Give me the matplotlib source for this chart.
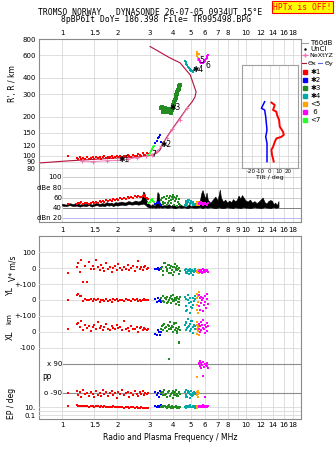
# Dynasonde ionogram, Tromso 26-07-05 09:34 UT
import matplotlib.pyplot as plt
import matplotlib.transforms as mtransforms
from matplotlib.lines import Line2D
from matplotlib.ticker import NullLocator

# ---------------- data ----------------
f_ticks = [1, 1.5, 2, 3, 4, 5, 6, 7, 8, 9, 10, 12, 14, 16, 18]
f_lab_db = ['1', '1.5', '2', '3', '4', '5', '6', '7', '8', '9', '10', '12', '14', '16', '18']
f_lab = ['' if s == '9' else s for s in f_lab_db]
h_ticks = [80, 90, 100, 120, 150, 200, 300, 400, 600, 800]
db_ticks = [100, 80, 60, 40, 20]
db_labels = ['100', 'dBe 80', '60', '40', 'dBn 20']

# echo trace 1 (red)
f_red = [1.08, 1.20, 1.22, 1.25, 1.27, 1.30, 1.33, 1.36, 1.40, 1.43,
         1.47, 1.50, 1.53, 1.57, 1.60, 1.63, 1.66, 1.70, 1.74, 1.78,
         1.82, 1.86, 1.90, 1.94, 1.98, 2.02, 2.07, 2.12, 2.17, 2.22,
         2.27, 2.32, 2.38, 2.44, 2.50, 2.55, 2.60, 2.65, 2.70, 2.75,
         2.80, 2.84, 2.88, 2.92]
h_red = [100, 96, 94, 97, 95, 96, 94, 97, 95, 96,
         98, 95, 97, 96, 98, 95, 97, 99, 96, 98,
         97, 99, 96, 98, 100, 97, 99, 98, 100, 97,
         101, 99, 98, 102, 100, 99, 103, 101, 100, 104,
         102, 101, 105, 103]
db_red = [47, 48, 50, 49, 51, 48, 50, 49, 47, 50,
          51, 49, 52, 50, 53, 51, 54, 52, 55, 53,
          56, 54, 57, 55, 58, 56, 59, 57, 60, 58,
          61, 59, 62, 60, 63, 61, 64, 62, 61, 63,
          65, 62, 60, 58]
v_red = [-31, 5, 31, -27, 52, -84, 12, -90, 41, -8,
         15, -5, 52, 8, -12, 20, 3, -18, 35, -6,
         10, -22, 4, 14, -10, 28, 0, -14, 9, -4,
         18, -9, 2, 12, -16, 6, 45, -3, 10, -11,
         5, 16, -7, 3]
yl_red = [0, 30, 35, 26, 28, -5, 8, -3, 2, 5,
          -8, 4, -2, 6, -10, 3, 0, -6, 5, -4,
          2, -12, 4, -1, 6, -8, 0, 3, -5, 7,
          -3, 1, -9, 4, -2, 5, -6, 2, -4, 0,
          8, -3, 1, -2]
xl_red = [15, 48, 56, 30, 65, 10, 40, 22, 35, 5,
          28, 45, 18, 60, 25, 38, 12, 30, 48, 20,
          8, 35, 25, 15, 42, 22, 30, 10, 70, 18,
          26, 5, 34, 20, 14, 28, -5, 22, 30, 12,
          25, 18, 8, 20]
pp_red = [-90, -75, -100, -85, -110, -70, -95, -88, -105, -80,
          -92, -115, -78, -98, -86, -104, -72, -94, -82, -108,
          -90, -76, -100, -88, -118, -84, -96, -70, -102, -90,
          -80, -110, -86, -98, -74, -92, -106, -84, -96, -78,
          -100, -88, -94, -90]
ep_red = [25, 30, 22, 28, 18, 24, 20, 26, 16, 22,
          19, 14, 21, 17, 12, 18, 15, 20, 13, 16,
          11, 14, 17, 10, 13, 9, 12, 15, 8, 11,
          10, 7, 12, 9, 6, 10, 8, 5, 9, 7,
          6, 8, 5, 7]

# trace 2 (blue)
f_blu = [3.22, 3.27, 3.32, 3.36, 3.40, 3.44]
h_blu = [126, 131, 136, 140, 145, 128]
db_blu = [47, 49, 52, 50, 48, 46]
v_blu = [-5, -8, 2, -10, -3, 0]
yl_blu = [5, -10, 12, -5, 0, -15]
xl_blu = [-15, -20, 10, -5, -18, 0]
pp_blu = [-80, -100, -90, -110, -75, -95]
ep_blu = [20, 15, 25, 12, 18, 30]

# trace 3 (green)
f_grn = [3.45, 3.50, 3.55, 3.60, 3.65, 3.70, 3.75, 3.80, 3.85, 3.90,
         3.95, 4.00, 4.03, 4.06, 4.10, 4.14, 4.18, 4.22, 4.26, 4.30,
         4.34, 4.38, 3.52, 3.62, 3.72, 3.82, 3.92, 4.08, 4.20, 4.32]
h_grn = [235, 240, 230, 222, 228, 218, 224, 216, 222, 220,
         226, 232, 245, 258, 270, 282, 295, 310, 322, 335,
         345, 352, 218, 235, 226, 228, 215, 252, 300, 330]
db_grn = [55, 60, 52, 62, 58, 64, 50, 60, 63, 56,
          61, 65, 58, 62, 54, 60, 57, 63, 52, 58,
          48, 45, 47, 50, 45, 53, 49, 46, 44, 48]
v_grn = [-5, 10, -20, 30, 5, -15, 20, -30, 0, 15,
         -10, -40, 8, -25, 25, 2, -12, 12, -8, -35,
         4, -18, -45, 35, -2, 18, -28, 6, -14, 0]
yl_grn = [10, -5, 25, -15, 5, 20, -10, 0, 15, -20,
          8, -8, 30, -2, 12, -25, 3, 18, -12, 6,
          -30, 22, -4, 14, -18, 2, 28, -6, 10, -14]
xl_grn = [20, 35, 10, 50, 28, 5, 42, 15, 60, 22,
          38, 0, 30, 48, 12, 25, 55, 5, 18, -62,
          -70, 8, 45, 26, 2, 38, 16, 52, -10, 30]
pp_grn = [-90, -80, -100, -70, -95, -110, -85, 121, -105, -92,
          -88, -120, -78, -98, -84, -102, -72, -94, -108, -86,
          -90, -96, -82, -100, -115, -76, -92, -88, -104, -80]
ep_grn = [15, 20, 10, 25, 12, 8, 18, 30, 14, 10,
          22, 6, 16, 12, 9, 20, 11, 7, 14, 10,
          8, 12, 18, 26, 9, 15, 6, 11, 8, 13]

# trace 4 (teal)
f_cyn = [4.66, 4.70, 4.74, 4.78, 4.83, 4.88, 4.93, 4.98, 5.03, 5.08,
         5.13, 5.18, 5.23, 5.28, 4.72, 4.85, 5.00, 5.25]
h_cyn = [540, 528, 515, 500, 490, 480, 470, 462, 455, 450,
         448, 452, 460, 470, 510, 485, 458, 475]
db_cyn = [46, 50, 54, 48, 52, 56, 50, 47, 53, 49,
          45, 51, 48, 46, 44, 55, 50, 47]
v_cyn = [-10, -25, -5, -30, -15, -35, -20, -8, -28, -12,
         -40, -18, -22, -6, -32, -14, -26, -20]
yl_cyn = [20, -40, 5, -60, 30, -20, -80, 10, -10, -50,
          15, -30, -5, 25, -70, 0, -45, 8]
xl_cyn = [40, 10, 60, 25, 80, 35, 5, 50, 20, 70,
          30, -8, 45, 15, 55, 28, 65, 38]
pp_cyn = [-80, -100, -70, -110, -90, -85, -120, -95, -75, -105,
          -88, -98, -82, -92, -115, -78, -102, -90]
ep_cyn = [12, 20, 8, 15, 25, 10, 18, 30, 9, 14,
          22, 11, 16, 7, 13, 19, 10, 24]

# trace 5 (orange)
f_org = [5.38, 5.40, 5.42, 5.44, 5.46, 5.48, 5.50, 5.52]
h_org = [640, 620, 600, 590, 575, 560, 552, 610]
db_org = [48, 50, 46, 52, 49, 47, 51, 45]
v_org = [-20, -15, -25, -18, -30, -12, -22, -28]
yl_org = [40, -60, 10, -30, 25, -80, -10, 50]
xl_org = [20, 45, -15, 60, 30, 5, 38, -20]
pp_org = [-85, -100, -80, 11, -95, -110, -75, -90]
ep_org = [12, 20, 15, 8, 25, 10, 18, 14]

# trace 6 (magenta)
f_mag = [5.52, 5.56, 5.60, 5.64, 5.68, 5.72, 5.76, 5.80, 5.85, 5.90,
         5.95, 6.00, 6.05, 6.10, 6.15, 6.20]
h_mag = [560, 548, 538, 530, 525, 520, 518, 520, 525, 530,
         538, 548, 560, 575, 590, 600]
db_mag = [48, 50, 52, 49, 51, 47, 50, 48, 46, 49,
          47, 50, 48, 46, 47, 49]
v_mag = [-15, -20, -10, -25, -18, -12, -28, -22, -8, -16,
         -24, -14, -20, -10, -18, -26]
yl_mag = [30, -40, 10, -60, 20, -20, 0, -70, 15, -30,
          25, -10, -50, 5, 35, -25]
xl_mag = [20, 50, 35, -5, 60, 10, 40, 25, 75, 15,
          45, -10, 30, 55, 5, 38]
pp_mag = [90, 100, 80, 110, 70, 95, 85, 17, 105, 75,
          92, -110, 88, 98, 82, 65]
ep_mag = [20, 15, 25, 12, 18, 22, 14, 30, 16, 10,
          24, 13, 19, 11, 17, 21]

# trace 7 (lime), only height and amplitude
f_lim = [2.95, 2.99, 3.03, 3.07, 3.11, 3.15]
h_lim = [101, 104, 108, 112, 116, 119]
db_lim = [50, 52, 55, 57, 53, 51]

# unclassified amplitude band (black)
f_blk = [1.00, 1.05, 1.10, 1.15, 1.20, 1.25, 1.30, 1.35, 1.40, 1.45,
         1.50, 1.55, 1.60, 1.65, 1.70, 1.75, 1.80, 1.85, 1.90, 1.95,
         2.00, 2.10, 2.20, 2.30, 2.40, 2.50, 2.60, 2.70, 2.76, 2.80,
         2.85, 2.90, 2.95, 3.00, 3.05, 3.10, 3.15, 3.20, 3.25, 3.30,
         3.35, 3.40, 3.50, 3.60, 3.70, 3.80, 3.90, 4.00, 4.10, 4.20,
         4.30, 4.40, 4.50, 4.60, 4.70, 4.80, 4.90, 5.00, 5.20, 5.40,
         5.60, 5.70, 5.80, 5.90, 6.00, 6.10, 6.20, 6.40, 6.60, 6.80,
         7.00, 7.10, 7.20, 7.30, 7.50, 7.70, 7.90, 8.10, 8.30, 8.50,
         8.70, 8.90, 9.10, 9.30, 9.50, 9.70, 9.90, 10.2, 10.5, 10.8,
         11.1, 11.4, 11.7, 12.0, 12.3, 12.6, 12.9, 13.2, 13.5, 13.8,
         14.1, 14.4, 14.7, 15.0]
hi_blk = [48, 46, 49, 47, 50, 46, 48, 47, 49, 46,
          48, 50, 47, 49, 48, 51, 49, 50, 48, 51,
          50, 52, 50, 53, 51, 54, 52, 55, 72, 70,
          58, 52, 48, 46, 44, 47, 45, 44, 50, 71,
          68, 46, 44, 45, 44, 47, 43, 46, 44, 45,
          43, 46, 44, 43, 45, 44, 46, 43, 45, 44,
          52, 68, 75, 66, 58, 70, 55, 50, 56, 62,
          55, 65, 76, 60, 52, 56, 50, 54, 51, 57,
          53, 55, 64, 58, 65, 60, 55, 52, 56, 50,
          53, 49, 52, 56, 60, 51, 48, 53, 55, 54,
          47, 50, 45, 53]
lo_blk = [44, 43, 45, 43, 44, 42, 44, 43, 45, 42,
          44, 45, 43, 44, 43, 45, 44, 45, 43, 45,
          44, 46, 45, 47, 46, 47, 46, 47, 48, 47,
          45, 42, 41, 40, 41, 40, 41, 40, 40, 41,
          40, 41, 40, 41, 40, 40, 41, 40, 39, 40,
          41, 40, 40, 41, 40, 39, 40, 41, 40, 40,
          41, 40, 39, 40, 41, 40, 40, 41, 40, 39,
          40, 41, 40, 40, 39, 40, 41, 40, 40, 39,
          41, 40, 40, 39, 40, 41, 40, 40, 39, 40,
          41, 40, 40, 39, 40, 41, 40, 40, 39, 40,
          41, 40, 40, 41]

# real height profile and NeXtYZ profile
f_prof = [0.753, 1.06, 1.61, 2.65, 3.12, 3.33, 3.41, 3.50, 3.72, 4.01,
          4.38, 4.78, 5.09, 5.28, 5.35, 5.15, 4.97, 4.38, 3.86, 3.01]
h_prof = [87.8, 91, 94.3, 98.2, 101, 107, 111, 121, 140, 164,
          196, 234, 261, 285, 312, 366, 422, 523, 571, 700]
f_nex = [1.28, 1.48, 1.75, 2.00, 2.28, 2.55, 2.85, 3.10, 3.30, 3.45, 3.70, 3.98, 4.35, 4.80]
h_nex = [91, 90, 91.5, 92, 94, 96.5, 99, 102, 108, 118, 136, 160, 190, 235]

# tilt inset
tilt_hx = [258, 247, 226, 219, 207, 189, 168, 153, 145, 140, 136, 128, 117, 111, 101, 95, 90]
tilt_x = [1.9, 5.6, 3.7, 7.4, 8.1, 10.4, 11.1, 14.8, 15.6, 13.0, 7.4, 5.6, 3.7, 1.9, 2.6, 3.7, 4.4]
tilt_hy = [262, 247, 233, 226, 200, 178, 158, 140, 125, 111, 90]
tilt_y = [-5.6, -7.4, -9.2, -5.6, -4.4, -3.7, -3.0, -4.4, -3.0, -3.0, -3.0]

# trace labels in the height panel
lab_txt = ['✱1', '✱2', '7', '✱3', '✱4', '5', '6']
lab_f = [2.02, 3.41, 3.07, 3.86, 5.12, 5.57, 5.99]
lab_h = [94, 122, 103, 234, 461, 545, 495]

# ---------------- styling ----------------
RED, BLUE, GREEN, TEAL = '#ff0000', '#0000ff', '#228b22', '#00a8a8'
ORANGE, MAG, LIME = '#ffa500', '#ff00ff', '#22ff22'
MAROON, PINK = '#b4103c', '#f070b0'
GRID = '#d9d9d9'
FRAME = '#8a8a8a'

traces = [
    dict(f=f_red, h=h_red, db=db_red, v=v_red, yl=yl_red, xl=xl_red, pp=pp_red, ep=ep_red, c=RED, lab='✱1'),
    dict(f=f_blu, h=h_blu, db=db_blu, v=v_blu, yl=yl_blu, xl=xl_blu, pp=pp_blu, ep=ep_blu, c=BLUE, lab='✱2'),
    dict(f=f_grn, h=h_grn, db=db_grn, v=v_grn, yl=yl_grn, xl=xl_grn, pp=pp_grn, ep=ep_grn, c=GREEN, lab='✱3'),
    dict(f=f_cyn, h=h_cyn, db=db_cyn, v=v_cyn, yl=yl_cyn, xl=xl_cyn, pp=pp_cyn, ep=ep_cyn, c=TEAL, lab='✱4'),
    dict(f=f_org, h=h_org, db=db_org, v=v_org, yl=yl_org, xl=xl_org, pp=pp_org, ep=ep_org, c=ORANGE, lab='<5'),
    dict(f=f_mag, h=h_mag, db=db_mag, v=v_mag, yl=yl_mag, xl=xl_mag, pp=pp_mag, ep=ep_mag, c=MAG, lab=' 6'),
    dict(f=f_lim, h=h_lim, db=db_lim, v=None, yl=None, xl=None, pp=None, ep=None, c=LIME, lab='<7'),
]

plt.rcParams['font.family'] = ['DejaVu Sans']
plt.rcParams['font.size'] = 5

W, H = 335, 451
L, R = 39.3, 300.7


def box(x0, y0, x1, y1):
    # pixel box with origin at top left -> figure fractions
    return [x0 / W, 1 - y1 / H, (x1 - x0) / W, (y1 - y0) / H]


def freq_axis(ax, labels):
    ax.set_xscale('log')
    ax.set_xlim(0.753, 19.8)
    ax.set_xticks(f_ticks)
    ax.set_xticklabels(labels)
    ax.xaxis.set_minor_locator(NullLocator())
    ax.tick_params(length=0)
    for s in ax.spines.values():
        s.set_color(FRAME)
        s.set_linewidth(0.8)


fig = plt.figure(figsize=(W / 100, H / 100), dpi=100)

# ---- height panel ----
axh = fig.add_axes(box(L, 39, R, 171))
freq_axis(axh, f_lab)
axh.xaxis.set_ticks_position('top')
axh.set_yscale('log')
axh.set_ylim(76.1, 800)
axh.set_yticks(h_ticks)
axh.set_yticklabels([str(v) for v in h_ticks])
axh.yaxis.set_minor_locator(NullLocator())
axh.tick_params(pad=2.5)
axh.grid(True, color=GRID, lw=0.6)
axh.set_axisbelow(True)
axh.spines['bottom'].set_visible(False)
axh.plot(f_prof, h_prof, color=MAROON, lw=0.8)
axh.plot(f_nex, h_nex, color=PINK, lw=0.6, marker='+', ms=3, mew=0.6)
for t in traces:
    ms = 2.4 if t['c'] == GREEN else 1.9
    axh.plot(t['f'], t['h'], 's', color=t['c'], ms=ms, mew=0)
for s, f, h in zip(lab_txt, lab_f, lab_h):
    axh.text(f, h, s, ha='left', va='center', fontsize=5.5)

# ---- amplitude panel ----
axd = fig.add_axes(box(L, 171, R, 221.7))
freq_axis(axd, f_lab_db)
axd.tick_params(axis='x', pad=4)
axd.set_ylim(12, 112.9)
axd.set_yticks([])
axd.spines['top'].set_visible(False)
axd.grid(True, axis='x', color=GRID, lw=0.6)
axd.set_axisbelow(True)
trd = mtransforms.blended_transform_factory(axd.transAxes, axd.transData)
for v, s in zip(db_ticks, db_labels):
    c = '#b8b8f0' if v == 20 else ('#808080' if v == 40 else '#cccccc')
    axd.axhline(v, xmin=0.091, color=c, lw=0.7, zorder=1)
    axd.text(0.087, v, s, transform=trd, ha='right', va='center')
axd.fill_between(f_blk, lo_blk, hi_blk, color='black', lw=0.4, zorder=2)
for t in traces:
    axd.plot(t['f'], t['db'], 's', color=t['c'], ms=1.8, mew=0, zorder=3)

# ---- tilt inset ----
axt = fig.add_axes(box(241.7, 65, 297.7, 167.7))
axt.set_zorder(5)
axt.set_yscale('log')
axt.set_ylim(80.7, 504)
axt.set_xlim(-31, 31)
axt.set_xticks([-20, -10, 0, 10, 20])
axt.set_xticklabels(['-20', '-10', '0', '10', '20'], fontsize=4)
axt.set_yticks([90, 100, 120, 150, 200, 300, 400])
axt.set_yticklabels([])
axt.yaxis.set_minor_locator(NullLocator())
axt.tick_params(length=0, pad=1)
axt.grid(True, color=GRID, lw=0.6)
axt.set_xlabel('Tilt / deg', fontsize=4.5, labelpad=0.5)
for s in axt.spines.values():
    s.set_color('#a0a0a0')
    s.set_linewidth(0.8)
axt.plot(tilt_x, tilt_hx, color=RED, lw=1.4)
axt.plot(tilt_y, tilt_hy, color=BLUE, lw=1.1)

# ---- bottom panel: velocity, location, polarization ----
axb = fig.add_axes(box(L, 236, R, 419))
freq_axis(axb, f_lab)
axb.set_yticks([])
axb.grid(True, axis='x', color=GRID, lw=0.6)
axb.tick_params(axis='x', pad=2.5)


def strip(zero, ppu, ticks, labels, key, y0=236, y1=419):
    ax = fig.add_axes(box(L, y0, R, y1))
    ax.set_xscale('log')
    ax.set_xlim(0.753, 19.8)
    ax.set_xticks([])
    ax.xaxis.set_minor_locator(NullLocator())
    ax.patch.set_visible(False)
    for s in ax.spines.values():
        s.set_visible(False)
    ax.set_ylim((zero - y1) / ppu, (zero - y0) / ppu)
    ax.set_yticks(ticks)
    ax.set_yticklabels(labels)
    ax.tick_params(length=0, pad=2.5)
    ax.grid(True, axis='y', color=GRID, lw=0.6)
    for t in traces:
        if t[key] is not None:
            ax.plot(t['f'], t[key], 's', color=t['c'], ms=1.5, mew=0)
    return ax


strip(268.2, 0.1585, [100, 0, -100], ['100', '0', '+-100'], 'v')
strip(300.0, 0.1585, [0], ['0'], 'yl')
strip(331.7, 0.1585, [100, 0, -100], ['+-100', '0', '-100'], 'xl')
axp = strip(378.8, 29 / 180, [], [], 'pp')
trp = mtransforms.blended_transform_factory(axp.transAxes, axp.transData)
for v, s in [(90, 'x 90'), (-90, 'o -90')]:
    axp.axhline(v, xmin=0.09, color='#8c8c8c', lw=0.8, zorder=0)
    axp.text(0.087, v, s, transform=trp, ha='right', va='center')
axp.text(0.013, 0, 'PP', transform=trp, ha='left', va='center', fontsize=5.5)

# EP strip on a log scale: 10 at 407.3 px, 3.85 px per decade
axe = fig.add_axes(box(L, 399, R, 419))
axe.set_xscale('log')
axe.set_xlim(0.753, 19.8)
axe.set_xticks([])
axe.xaxis.set_minor_locator(NullLocator())
axe.patch.set_visible(False)
for s in axe.spines.values():
    s.set_visible(False)
axe.set_yscale('log')
axe.set_ylim(10 ** (1 + (407.3 - 419) / 3.85), 10 ** (1 + (407.3 - 399) / 3.85))
axe.set_yticks([10, 1, 0.1])
axe.set_yticklabels(['10.', '', '0.1'])
axe.yaxis.set_minor_locator(NullLocator())
axe.tick_params(length=0, pad=2.5)
axe.grid(True, axis='y', color=GRID, lw=0.6)
for t in traces:
    if t['ep'] is not None:
        axe.plot(t['f'], t['ep'], 's', color=t['c'], ms=1.5, mew=0)

# ---- axis titles ----
fig.text(12.5 / W, 1 - 84 / H, "R', R / km", rotation=90, ha='center', va='center', fontsize=5.5)
fig.text(13 / W, 1 - 268 / H, 'V* m/s', rotation=90, ha='center', va='center', fontsize=5.5)
fig.text(10.5 / W, 1 - 291 / H, 'YL', rotation=90, ha='center', va='center', fontsize=5.5)
fig.text(9 / W, 1 - 318.5 / H, 'km', rotation=90, ha='center', va='center', fontsize=5)
fig.text(10.5 / W, 1 - 335 / H, 'XL', rotation=90, ha='center', va='center', fontsize=5.5)
fig.text(12 / W, 1 - 403 / H, 'EP / deg', rotation=90, ha='center', va='center', fontsize=5.5)
fig.text(170 / W, 1 - 438 / H, 'Radio and Plasma Frequency / MHz', ha='center', va='center', fontsize=5.5)

# ---- header ----
fig.text(150 / W, 1 - 12.5 / H, 'TROMSO NORWAY   DYNASONDE 26-07-05 0934UT 15°E',
         family='DejaVu Sans Mono', fontsize=5.8, ha='center', va='center')
fig.text(156.5 / W, 1 - 20 / H, '8pBP6It DoY= 186.398 File= TR995498.BPG',
         family='DejaVu Sans Mono', fontsize=5.8, ha='center', va='center')
fig.text(302.5 / W, 1 - 7 / H, 'HPTx is OFF!', family='DejaVu Sans Mono', fontsize=5.8,
         color='red', ha='center', va='center',
         bbox=dict(facecolor='#ffff00', edgecolor='red', lw=0.8, pad=1.2))


# ---- key at the right ----
def key_row(y, handles, labels, ncol=1, size=5, hlen=1.0):
    fig.legend(handles, labels, loc='center left', bbox_to_anchor=(301.5 / W, 1 - y / H),
               frameon=False, fontsize=size, ncol=ncol, handlelength=hlen, handletextpad=0.3,
               columnspacing=0.2, borderpad=0, borderaxespad=0)


key_row(43.3, [Line2D([], [], color='#a0a0a0', lw=0.8)], ['T60dB'])
key_row(49, [Line2D([], [], color='black', marker='.', ms=1.5, ls='none')], ['UnCl'])
key_row(55.5, [Line2D([], [], color=PINK, lw=0.6, marker='+', ms=3)], ['NeXtYZ'], size=4.6)
key_row(63.3, [Line2D([], [], color=MAROON, lw=0.8), Line2D([], [], color='#6060ff', lw=0.8)],
        ['Θx', 'Θy'], ncol=2, size=4.6, hlen=0.7)
for i, t in enumerate(traces):
    key_row(72.5 + 8 * i, [Line2D([], [], color=t['c'], marker='s', ms=2.2, ls='none')], [t['lab']])

fig.savefig('out.png', dpi=100)
